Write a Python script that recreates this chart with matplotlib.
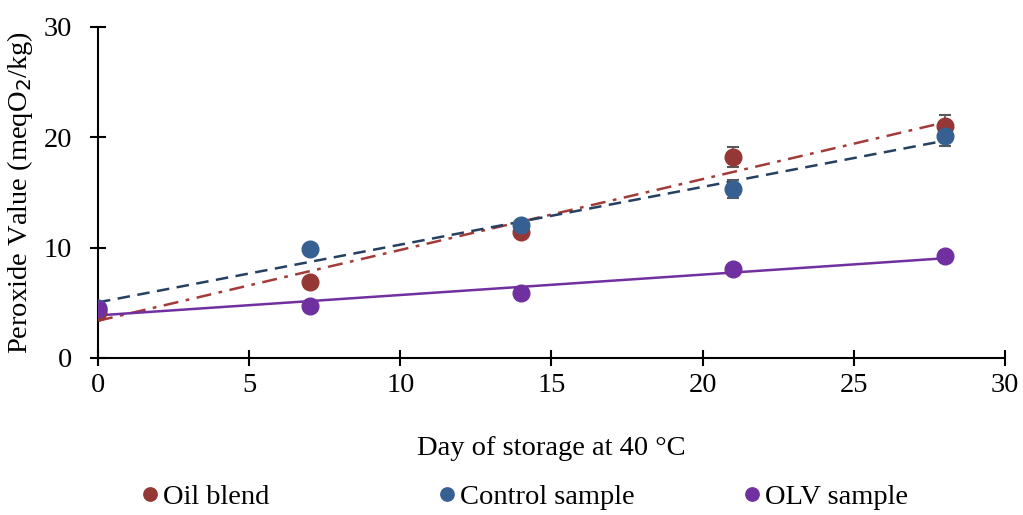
import numpy as np
import matplotlib.pyplot as plt

days = [0, 7, 14, 21, 28]
oil_blend = [4.2, 6.9, 11.45, 18.25, 21.0]
oil_blend_err = [0.3, 0.3, 0.3, 0.9, 1.0]
control = [4.5, 9.88, 12.05, 15.3, 20.1]
control_err = [0.3, 0.3, 0.3, 0.8, 0.9]
olv = [4.4, 4.7, 5.9, 8.04, 9.2]
olv_err = [0.3, 0.3, 0.3, 0.3, 0.3]

series = [
    ('Oil blend', oil_blend, oil_blend_err, '#953735', '#A33B39', (0, (6, 3, 1.5, 3))),
    ('Control sample', control, control_err, '#376092', '#254061', (0, (5, 3))),
    ('OLV sample', olv, olv_err, '#7030A0', '#7030A0', '-'),
]

plt.rcParams['font.family'] = ['Liberation Serif', 'DejaVu Serif']

fig = plt.figure(figsize=(10.23, 5.15), dpi=100)
ax = fig.add_axes([0.0958, 0.3049, 0.8866, 0.6427])

x = np.array(days)
xx = np.array([0, 28])
handles = []
for name, vals, err, col, lcol, ls in series:
    k, b = np.polyfit(x, vals, 1)
    ax.plot(xx, k * xx + b, color=lcol, linestyle=ls, linewidth=1.8, zorder=2)
for name, vals, err, col, lcol, ls in series:
    ax.errorbar(x, vals, yerr=err, fmt='none', ecolor='#595959', elinewidth=1.2,
                capsize=4, capthick=1.5, zorder=3)
    h, = ax.plot(x, vals, 'o', color=col, markersize=12, zorder=4, label=name)
    handles.append(h)

ax.set_xlim(0, 30)
ax.set_ylim(0, 30)
ax.set_xticks(range(0, 31, 5))
ax.set_yticks(range(0, 31, 10))
for s in ['top', 'right']:
    ax.spines[s].set_visible(False)
for s in ['left', 'bottom']:
    ax.spines[s].set_linewidth(1.5)
ax.tick_params(direction='inout', length=11, width=1.5, labelsize=20.5)
ax.tick_params(axis='x', pad=5)
ax.tick_params(axis='y', pad=13)
ax.set_xlabel('Day of storage at 40 °C', fontsize=20.5, labelpad=28)
ax.set_ylabel('Peroxide Value (meqO$_2$/kg)', fontsize=20.5, labelpad=6)

for h, xpos in zip(handles, [0.1385, 0.4287, 0.7268]):
    fig.legend(handles=[h], loc='center left', bbox_to_anchor=(xpos, 0.035),
               frameon=False, fontsize=20.5, markerscale=0.8, handlelength=0.6,
               handletextpad=0.15, borderpad=0, borderaxespad=0)

fig.savefig('out.png', dpi=100)
